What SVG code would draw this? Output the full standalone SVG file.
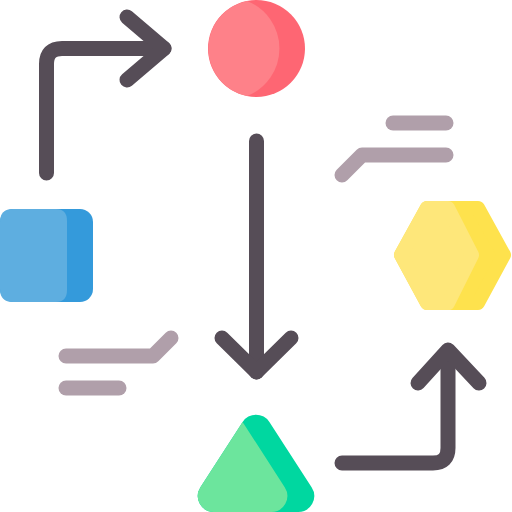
<svg xmlns="http://www.w3.org/2000/svg" width="512" height="512" viewBox="0 0 512 512">
<style>
.c{fill:none;stroke:#564D57;stroke-width:15;stroke-linecap:round;stroke-linejoin:round}
.g{fill:none;stroke:#B09FAA;stroke-width:15;stroke-linecap:round;stroke-linejoin:round}
</style>
<defs>
<path id="triShape" d="M242.6,421.9 A16,16 0 0 1 269.4,421.9 L311.6,487.3 A16,16 0 0 1 298.1,512 L213.9,512 A16,16 0 0 1 200.4,487.3 Z"/>
<clipPath id="triClip">
<use href="#triShape"/>
</clipPath>
</defs>
<g id="connectors">
<path class="c" d="M46.5,173 V64 Q46.5,48.5 62,48.5 H164"/>
<path class="c" d="M127,17 L164,48.5 L127,80"/>
<path class="c" d="M256.5,141 V372"/>
<path class="c" d="M222,338 L256.5,372 L291,338"/>
<path class="c" d="M342,463 H433 Q448,463 448,448 V352"/>
<path class="c" d="M418,383 L448,350 L479,383"/>
</g>
<g id="notes">
<path class="g" d="M66,356 H153 L171,338"/>
<path class="g" d="M66,388 H119"/>
<path class="g" d="M393,123 H446"/>
<path class="g" d="M342,175 L362,155 H446"/>
</g>
<g id="circle">
<circle cx="256.5" cy="48.5" r="48.5" fill="#FE6673"/>
<path d="M247,1 A48.5,48.5 0 0 0 247,96 A51,51 0 0 0 247,1 Z" fill="#FE8189"/>
</g>
<g id="square">
<rect x="0" y="209" width="93" height="93" rx="13" fill="#349ADB"/>
<path d="M13,209 H56 Q67,209 67,221 V290 Q67,302 56,302 H13 Q0,302 0,289 V222 Q0,209 13,209 Z" fill="#5EAEE0"/>
</g>
<g id="hexagon">
<polygon points="401,255 427,208 478,208 504,255 478,303 427,303" fill="#FEE24D" stroke="#FEE24D" stroke-width="14" stroke-linejoin="round"/>
<polygon points="401,255 427,208 448,208 472,255 448,303 427,303" fill="#FEE77A" stroke="#FEE77A" stroke-width="14" stroke-linejoin="round"/>
</g>
<g id="triangle">
<use href="#triShape" fill="#00D7A0"/>
<path d="M242.6,421.9 L284.7,487.3 A16,16 0 0 1 271.2,512 L150,512 L150,380 Z" fill="#6CE59D" clip-path="url(#triClip)"/>
</g>
</svg>
